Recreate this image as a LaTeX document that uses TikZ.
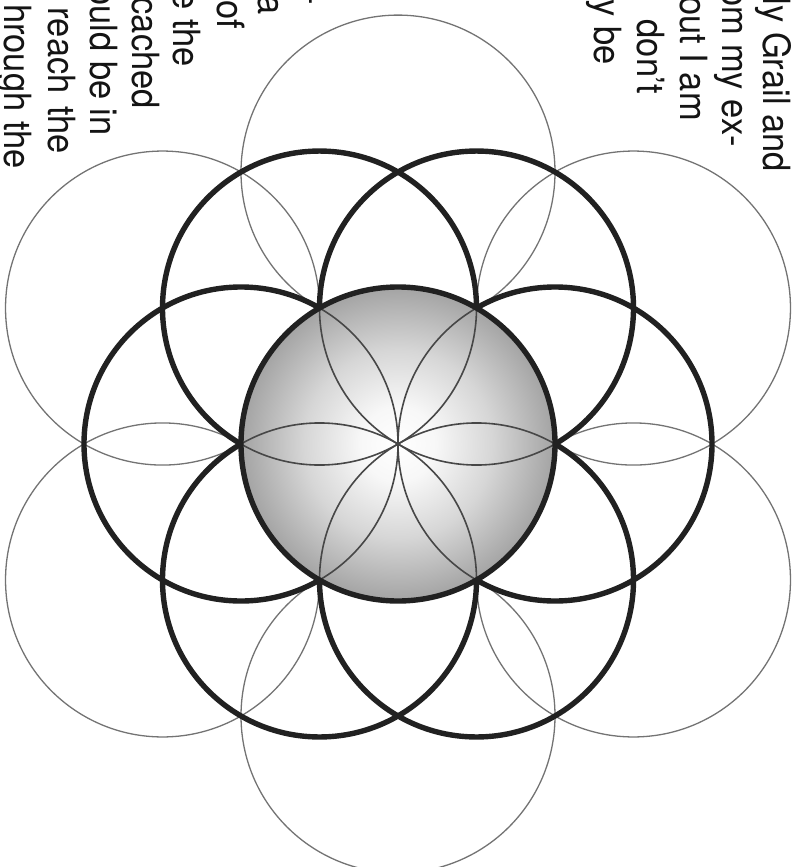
\documentclass[tikz,border=0pt]{standalone}
\usepackage{graphicx}
\usepackage{fontspec}
\setmainfont{TeX Gyre Heros}
\pgfdeclareradialshading{discshade}{\pgfpoint{0bp}{0bp}}{color(0bp)=(white); color(6bp)=(white!97!black); color(15bp)=(black!16); color(25bp)=(black!36); color(50bp)=(black!36)}
\newcommand{\sq}[1]{\scalebox{0.92}[1]{#1}}
\begin{document}
\begin{tikzpicture}[x=1pt,y=-1pt,
  thinring/.style={draw=black!55, line width=1.3pt},
  thickring/.style={draw=black!87, line width=5.4pt},
  petal/.style={draw=black!72, line width=1.6pt},
  txt/.style={rotate=-90, anchor=base east, inner sep=0pt, font=\fontsize{37.5}{44}\selectfont, text=black!92}]
\useasboundingbox (0,0) rectangle (800,867);
\clip (0,0) rectangle (800,867);
\def\R{157}
\coordinate (O) at (398,444);
\foreach \a [count=\i] in {0,60,...,300} { \coordinate (c\i) at ([shift={(\a:\R)}]O); }
\foreach \a [count=\i] in {30,90,...,330} { \coordinate (o\i) at ([shift={(\a:271.9)}]O); }
% outer thin circles
\foreach \i in {1,...,6} { \draw[thinring] (o\i) circle[radius=\R pt]; }
% thick ring circles
\foreach \i in {1,...,6} { \draw[thickring] (c\i) circle[radius=\R pt]; }
% central shaded disc
\shade[shading=discshade] (O) circle[radius=\R pt];
\begin{scope}
  \clip (O) circle[radius=\R pt];
  \foreach \i in {1,...,6} { \draw[petal] (c\i) circle[radius=\R pt]; }
\end{scope}
\draw[thickring] (O) circle[radius=\R pt];
% right text block
\node[txt] (r1) at (763,172) {\sq{ly Grail and}};
\node[txt] (r2) at (722,147) {\sq{om my ex-}};
\node[txt] (r3) at (680,121) {\sq{out I am}};
\node[txt] (r4) at (637,94) {\sq{don’t}};
\node[txt] (r5) at (594,65) {\sq{y be}};
% left text block
\node[txt] (l1) at (5,169) {\sq{hrough the}};
\node[txt] (l2) at (48,154) {\sq{reach\hspace{3pt} the}};
\node[txt] (l3) at (90,136) {\sq{ould be in}};
\node[txt] (l4) at (132,109) {\sq{cached}};
\node[txt] (l5) at (173,67) {\sq{e the}};
\node[txt] (l6) at (217,29) {\sq{of}};
\node[txt] (l7) at (258,15) {\sq{a}};
\node[txt] (l8) at (300,5) {\sq{-}};
\end{tikzpicture}
\end{document}
